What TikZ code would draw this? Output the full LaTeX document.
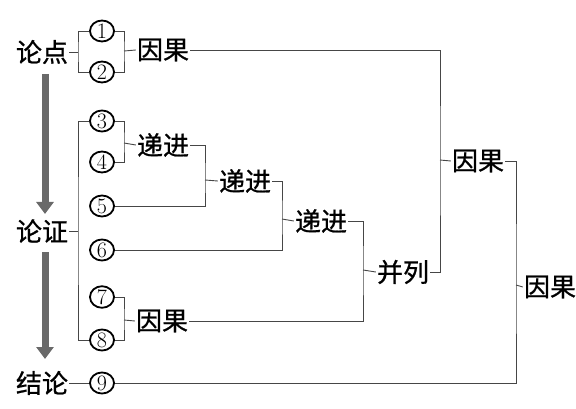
\documentclass[tikz,border=0pt]{standalone}
\usepackage{fontspec}
\newfontfamily\zhfont[FakeBold=0.8]{Noto Sans CJK SC}
\usepackage{tikz}
\usetikzlibrary{arrows.meta,shapes.geometric}
\definecolor{wire}{RGB}{70,70,70}
\definecolor{flow}{RGB}{105,105,105}

\begin{document}
\begin{tikzpicture}[x=1pt,y=-1pt,
    cn/.style={font=\zhfont\fontsize{26}{26}\selectfont,inner sep=1pt},
    num/.style={ellipse,draw,line width=1.8pt,minimum width=24pt,minimum height=21pt,inner sep=0pt,font=\fontsize{22}{22}\selectfont},
    link/.style={wire,line width=0.9pt}]
  \useasboundingbox (0,0) rectangle (576,409);
  % left column
  \node[cn] (dian) at (42,52) {论点};
  \node[cn] (zheng) at (42,231) {论证};
  \node[cn] (jie) at (42,383) {结论};
  \draw[flow,line width=7pt,-{Triangle[width=17pt,length=12pt]}] (45,74) -- (45,214);
  \draw[flow,line width=7pt,-{Triangle[width=17pt,length=12pt]}] (45,252) -- (45,359);
  % circled numbers
  \foreach \k/\y in {1/31,2/72,3/121,4/162,5/206,6/250,7/297,8/340,9/383}
    \node[num] (n\k) at (102,\y) {\k};
  % relation labels
  \node[cn] (yg1) at (163,50) {因果};
  \node[cn] (dj1) at (163,145) {递进};
  \node[cn] (dj2) at (245,181) {递进};
  \node[cn] (dj3) at (321,221) {递进};
  \node[cn] (yg4) at (162,321) {因果};
  \node[cn] (bl) at (403,272) {并列};
  \node[cn] (yg2) at (478,161) {因果};
  \node[cn] (yg3) at (550,287) {因果};
  % bracket joints
  \coordinate (b1) at (78,52);
  \coordinate (b2) at (78,231);
  \coordinate (c1) at (124,51);
  \coordinate (c2) at (124,143);
  \coordinate (c3) at (205,180);
  \coordinate (c4) at (282,219);
  \coordinate (c5) at (440,160);
  \coordinate (c6) at (516,285);
  \coordinate (c7) at (363,270);
  \coordinate (c8) at (124,320);
  % connectors
  \draw[link] (dian) -- (b1);
  \draw[link] (n1.west) -| (b1) |- (n2.west);
  \draw[link] (n1.east) -| (c1) |- (n2.east);
  \draw[link] (c1) -- (yg1.west);
  \draw[link] (zheng) -- (b2);
  \draw[link] (n3.west) -| (b2) |- (n8.west);
  \draw[link] (n3.east) -| (c2) |- (n4.east);
  \draw[link] (c2) -- (dj1.west);
  \draw[link] (dj1.east) -| (c3) |- (n5.east);
  \draw[link] (c3) -- (dj2.west);
  \draw[link] (dj2.east) -| (c4) |- (n6.east);
  \draw[link] (c4) -- (dj3.west);
  \draw[link] (n7.east) -| (c8) |- (n8.east);
  \draw[link] (c8) -- (yg4.west);
  \draw[link] (dj3.east) -| (c7) |- (yg4.east);
  \draw[link] (c7) -- (bl.west);
  \draw[link] (yg1.east) -| (c5) |- (bl.east);
  \draw[link] (c5) -- (yg2.west);
  \draw[link] (yg2.east) -| (c6) |- (n9.east);
  \draw[link] (c6) -- (yg3.west);
  \draw[link] (jie) -- (n9);
\end{tikzpicture}
\end{document}
